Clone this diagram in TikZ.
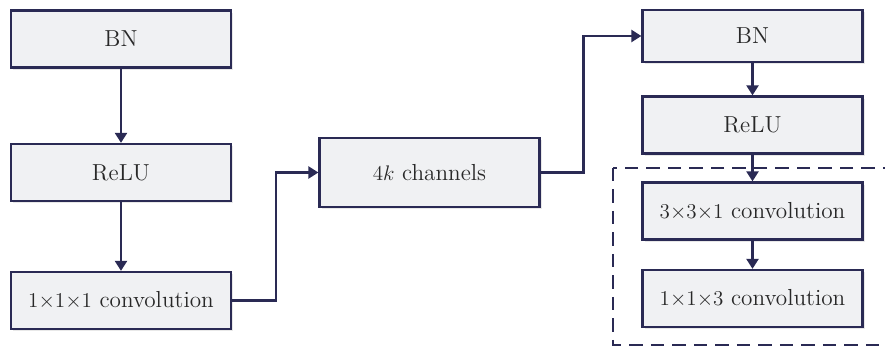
\documentclass[tikz,border=0pt]{standalone}
\usepackage{amsmath}
\usepackage{tikz}
\usetikzlibrary{arrows.meta,shadows}
\definecolor{N}{RGB}{42, 42, 84}
\definecolor{F}{RGB}{240, 241, 243}
\definecolor{T}{RGB}{40, 40, 40}

\begin{document}
\begin{tikzpicture}[x=0.02cm, y=-0.02cm,
    blk/.style={draw=N, line width=1.3pt, fill=F, text=T,
      minimum width=4.4cm, minimum height=1.14cm,
      font=\fontsize{13.2}{16}\selectfont,
      drop shadow={opacity=0.18, shadow xshift=1.2pt, shadow yshift=-1.2pt}},
    link/.style={draw=N, line width=1.3pt, -{Triangle[length=0.2cm, width=0.24cm]}},
    grp/.style={draw=N, line width=1.3pt, dash pattern=on 0.27cm off 0.16cm}]
  \useasboundingbox (0,0) rectangle (885,347);
  % left column
  \node[blk] (bn1) at (121,39) {BN};
  \node[blk] (relu1) at (121,172.5) {ReLU};
  \node[blk] (conv1) at (121,300.5) {$1{\times}1{\times}1$ convolution};
  \draw[link] (bn1) -- (relu1);
  \draw[link] (relu1) -- (conv1);
  % middle
  \node[blk, minimum height=1.38cm] (chan) at (429.5,172.5) {$4k$ channels};
  \draw[link] (conv1.east) -- ++(44,0) |- (chan.west);
  % right column
  \draw[grp] (613,168) rectangle (900,345);
  \node[blk, minimum height=1.04cm] (bn2) at (752.5,36) {BN};
  \node[blk] (relu2) at (752.5,125) {ReLU};
  \node[blk] (conv2) at (752.5,211) {$3{\times}3{\times}1$ convolution};
  \node[blk] (conv3) at (752.5,298.5) {$1{\times}1{\times}3$ convolution};
  \draw[link] (chan.east) -- ++(43,0) |- (bn2.west);
  \draw[link] (bn2) -- (relu2);
  \draw[link] (relu2) -- (conv2);
  \draw[link] (conv2) -- (conv3);
\end{tikzpicture}
\end{document}
